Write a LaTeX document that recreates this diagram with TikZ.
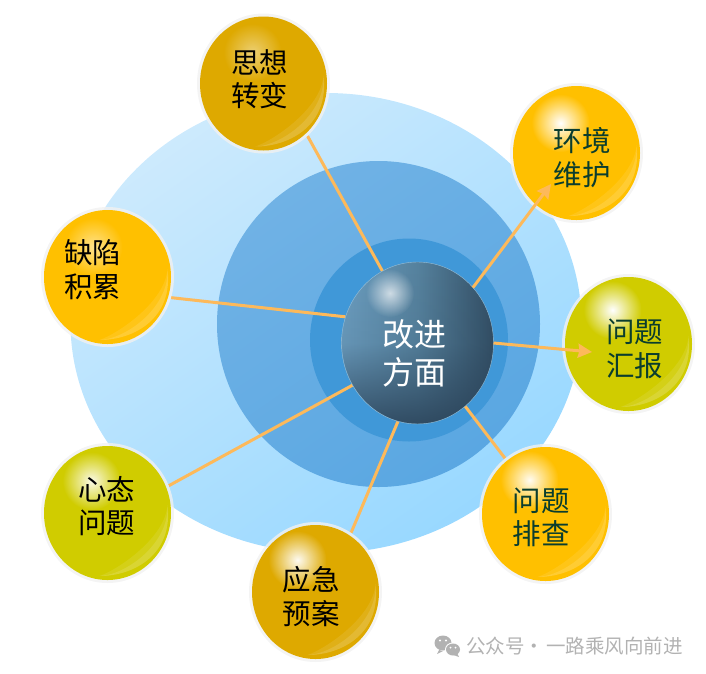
\documentclass[tikz,border=0pt]{standalone}
\usepackage{fontspec}
\setmainfont{Noto Sans CJK SC}
\usetikzlibrary{shapes.geometric,arrows.meta,fadings}
\pgfdeclarelayer{backdisc}
\pgfdeclarelayer{conn}
\pgfdeclarelayer{front}
\pgfsetlayers{backdisc,conn,main,front}
\definecolor{amber}{HTML}{FFC000}
\definecolor{gold}{HTML}{DEA900}
\definecolor{olive}{HTML}{D0CC00}
\definecolor{ringc}{HTML}{F1F1F1}
\definecolor{linkc}{HTML}{FDB95A}
\definecolor{dkgreen}{HTML}{0A3D2E}
\definecolor{wmark}{HTML}{B2B2B2}
\definecolor{outerA}{RGB}{205,234,253}
\definecolor{outerB}{RGB}{152,216,255}
\definecolor{midA}{RGB}{112,178,229}
\definecolor{midB}{RGB}{90,167,226}
\definecolor{innerC}{RGB}{64,152,216}
\definecolor{coreL}{RGB}{108,158,192}
\definecolor{coreM}{RGB}{86,130,158}
\definecolor{coreR}{RGB}{50,78,100}
\definecolor{coreRim}{RGB}{150,190,215}
\definecolor{coreB}{RGB}{42,66,88}
\tikzfading[name=glowfade, inner color=transparent!0, outer color=transparent!100]
\tikzfading[name=bottomfade, top color=transparent!100, bottom color=transparent!15, middle color=transparent!90]
\tikzset{
  ballnode/.style={ellipse, minimum width=133pt, minimum height=140pt, inner sep=0pt, outer sep=0pt, fill=ringc, fill opacity=0.8},
  discnode/.style={ellipse, inner sep=0pt, outer sep=0pt},
  balltext/.style={font=\fontsize{28.5}{33.5}\selectfont, align=center, inner sep=0pt},
  link/.style={draw=linkc, line width=3pt},
  arrowlink/.style={link, -{Stealth[length=14pt,width=14pt,inset=1.5pt]}},
}
% #1 name, #2 x, #3 y, #4 colour, #5 glow dx, #6 glow dy, #7 glow opacity
\newcommand{\BallAt}[7]{%
  \node[ballnode] (#1) at (#2,#3) {};
  \fill[#4] (#1.center) ellipse [x radius=63.5pt, y radius=67pt];
  \begin{scope}[shift={(#2,#3)}]
    \fill[white, opacity=0.09] (-8,63) .. controls (27,63) and (66,41) .. (60,-8)
       .. controls (58,24) and (12,56) .. (-8,63) -- cycle;
    \fill[white, opacity=0.12] (-8,63) .. controls (27,63) and (66,41) .. (60,-8)
       .. controls (62,30) and (19,62) .. (-8,63) -- cycle;
  \end{scope}
  \fill[white, opacity=#7, path fading=glowfade]
    ([shift={(#5pt,#6pt)}]#1.center) circle [radius=29pt];
}
\begin{document}
\begin{tikzpicture}[x=1pt,y=-1pt]
\useasboundingbox (0,0) rectangle (706,673);

\begin{pgfonlayer}{backdisc}
  \node[discnode, minimum width=511pt, minimum height=460pt,
        top color=outerA, bottom color=outerB, shading angle=35]
        (outerdisc) at (326,323) {};
  \node[discnode, minimum width=323pt, minimum height=326pt,
        top color=midA, bottom color=midB, shading angle=35]
        (middisc) at (378.5,324) {};
  \node[discnode, minimum width=198pt, minimum height=203pt, fill=innerC]
        (innerdisc) at (409,340) {};
\end{pgfonlayer}

\BallAt{siwang}{263.5}{83.5}{gold}{-11}{31}{0.45}
\BallAt{huanjing}{576.5}{153}{amber}{-16}{30}{1}
\BallAt{huibao}{628.5}{344}{olive}{-16}{34}{1}
\BallAt{quexian}{107.5}{277}{amber}{-14}{30}{0.55}
\BallAt{xintai}{107.5}{513}{olive}{-16}{32}{0.9}
\BallAt{yingji}{315.5}{592}{gold}{-18}{32}{0.95}
\BallAt{paicha}{545.5}{514}{amber}{-16}{34}{0.95}

% centre ball
\node[discnode, minimum width=152pt, minimum height=162pt,
      left color=coreL, right color=coreR, middle color=coreM, draw=coreRim, line width=0.4pt]
      (core) at (417.5,343) {};
\fill[coreB, path fading=bottomfade]
  (core.center) ellipse [x radius=75.5pt, y radius=80.5pt];
\fill[white, opacity=0.7, path fading=glowfade] (390,293) circle [radius=24pt];

\begin{pgfonlayer}{conn}
  \path[link] (core.116.6) -- (siwang.-50.9);
  \path[link] (core.160.3) -- (quexian.-18.3);
  \path[link] (core.213) -- (xintai.24.5);
  \path[link] (core.256.7) -- (yingji.59.1);
  \path[link] (core.-53.6) -- (paicha.126.2);
\end{pgfonlayer}

\begin{pgfonlayer}{front}
  \coordinate (tipa) at (551,184);
  \coordinate (tipb) at (592,352);
  \path[arrowlink] (core.45.8) -- (tipa);
  \path[arrowlink] (core.0.8) -- (tipb);
\end{pgfonlayer}

\node[balltext, text=black] (t1) at (259.5,79) {思想\\转变};
\node[balltext, text=dkgreen] (t2) at (582,157.5) {环境\\维护};
\node[balltext, text=dkgreen] (t3) at (634.5,349) {问题\\汇报};
\node[balltext, text=black] (t4) at (92.5,269.5) {缺陷\\积累};
\node[balltext, text=black] (t5) at (106.5,506) {心态\\问题};
\node[balltext, text=black] (t6) at (311,596.5) {应急\\预案};
\node[balltext, text=dkgreen] (t7) at (541,517.5) {问题\\排查};
\node[inner sep=0pt, align=center, text=white, font=\fontsize{32}{38}\selectfont] (t8) at (414.5,353.5) {改进\\方面};

% watermark
\fill[wmark] (443,643) ellipse [x radius=8.5pt, y radius=7.5pt];
\fill[wmark] (439,650) -- (437,654) -- (443,651) -- cycle;
\fill[white] (453,649.5) ellipse [x radius=8pt, y radius=7pt];
\fill[wmark] (453,649.5) ellipse [x radius=7pt, y radius=6pt];
\fill[wmark] (457,653) -- (459,657) -- (453.5,655) -- cycle;
\fill[white] (440,640.5) circle [radius=1.2pt] (446,640.5) circle [radius=1.2pt]
             (450.5,647.5) circle [radius=1pt] (455.5,647.5) circle [radius=1pt];
\node[inner sep=0pt, anchor=west, text=wmark, font=\fontsize{19.5}{22}\selectfont] (wm) at (466,646) {公众号\hspace*{-0.5pt}·\hspace*{2.5pt}一路乘风向前进};
\end{tikzpicture}
\end{document}
